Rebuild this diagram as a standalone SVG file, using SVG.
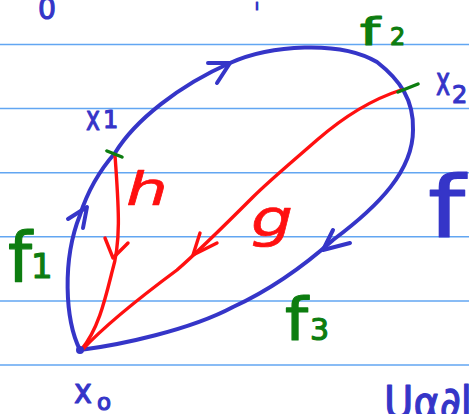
<svg xmlns="http://www.w3.org/2000/svg" width="469" height="414" viewBox="0 0 469 414">
<style>
.rule{stroke:#62a6f2;stroke-width:1.6;fill:none}
.blue{stroke:#3535c8;stroke-width:4;fill:none;stroke-linecap:round;stroke-linejoin:round}
.red{stroke:#ff1010;stroke-width:3.4;fill:none;stroke-linecap:round;stroke-linejoin:round}
.green{stroke:#0d7d10;stroke-width:3.5;fill:none;stroke-linecap:round}
text{font-family:"DejaVu Sans","Liberation Sans",sans-serif;stroke-width:1.2;stroke-linejoin:round}
.tb{fill:#3535c8;stroke:#3535c8}
.tg{fill:#0d7d10;stroke:#0d7d10}
.tr{fill:#ff1010;stroke:#ff1010;stroke-width:0.6;font-style:italic}
</style>
<rect width="469" height="414" fill="#ffffff"/>
<g id="rules">
<line class="rule" x1="0" y1="44.5" x2="469" y2="44.5"/>
<line class="rule" x1="0" y1="108.5" x2="469" y2="108.5"/>
<line class="rule" x1="0" y1="172.8" x2="469" y2="172.8"/>
<line class="rule" x1="0" y1="236.8" x2="469" y2="236.8"/>
<line class="rule" x1="0" y1="301" x2="469" y2="301"/>
<line class="rule" x1="0" y1="365" x2="469" y2="365"/>
</g>
<g id="connectors">
<path id="loop-f" class="blue" d="M80 350 C65 320 62 260 80 215 C88 190 100 170 115 153 C135 120 180 85 230 63 C270 45 340 40 377 62 C400 80 414 100 413 130 C413 170 380 205 333 240 C305 265 270 290 233 307 C190 330 120 345 80 350"/>
<path class="blue" d="M208 63 L230 63 L217 83"/>
<path class="blue" d="M68 219 L87 207 L83 228"/>
<path class="blue" d="M333 230 L323 250 L350 243"/>
<path id="h-path" class="red" d="M115 155 C118 200 122 240 112 272 C105 300 98 330 81 350"/>
<path class="red" d="M105 238 L113 258 L128 243"/>
<path id="g-path" class="red" d="M401 90 C370 100 340 120 317 140 C300 155 270 180 253 197 C230 220 200 250 177 270 C150 290 110 320 82 350"/>
<path class="red" d="M200 233 L193 255 L217 243"/>
<line class="green" x1="107" y1="151" x2="122" y2="157"/>
<line class="green" x1="398" y1="92" x2="418" y2="84"/>
<circle cx="80" cy="350" r="4" fill="#3535c8"/>
</g>
<g id="node-x0">
<text class="tb" x="74" y="403" font-size="34"><tspan textLength="18" lengthAdjust="spacingAndGlyphs">x</tspan><tspan x="97" y="410" font-size="23">o</tspan></text>
</g>
<g id="node-x1">
<text class="tb" transform="translate(86 130) scale(0.7 1)" x="0" y="0" font-size="34">x</text>
<text class="tb" x="103" y="128" font-size="24">1</text>
</g>
<g id="node-x2">
<text class="tb" transform="translate(436 95) scale(0.6 1)" x="0" y="0" font-size="40">x</text>
<text class="tb" x="452" y="103" font-size="24">2</text>
</g>
<g id="labels">
<text class="tg" x="8" y="282" font-size="70"><tspan textLength="24" lengthAdjust="spacingAndGlyphs">f</tspan><tspan x="31" y="278" font-size="34">1</tspan></text>
<text class="tg" x="360" y="45" font-size="37"><tspan textLength="20" lengthAdjust="spacingAndGlyphs">f</tspan><tspan x="390" y="45" font-size="24">2</tspan></text>
<text class="tg" x="285" y="340" font-size="59"><tspan textLength="23" lengthAdjust="spacingAndGlyphs">f</tspan><tspan x="310" y="340" font-size="30">3</tspan></text>
<text class="tb" x="428" y="237" font-size="85" textLength="37" lengthAdjust="spacingAndGlyphs">f</text>
<text class="tr" x="126" y="205" font-size="46" textLength="42" lengthAdjust="spacingAndGlyphs">h</text>
<text class="tr" x="251" y="236" font-size="52" textLength="42" lengthAdjust="spacingAndGlyphs">g</text>
<text class="tb" x="38" y="19" font-size="30" textLength="18" lengthAdjust="spacingAndGlyphs">0</text>
<text class="tb" x="255" y="10" font-size="14">ı</text>
<text class="tb" x="384" y="418" font-size="44" textLength="88" lengthAdjust="spacingAndGlyphs">Uα∂l</text>
</g>
</svg>
